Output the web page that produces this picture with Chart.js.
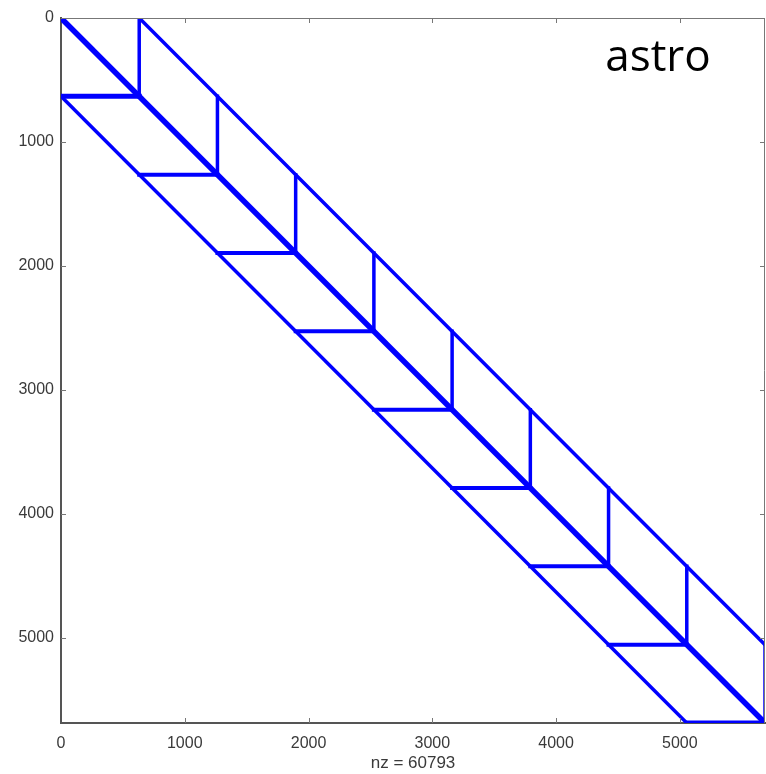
<!DOCTYPE html>
<html lang="en">
<head>
    <meta charset="UTF-8">
    <title>astro</title>
    <script src="https://cdn.jsdelivr.net/npm/chart.js"></script>
    <style>
        html, body { margin: 0; padding: 0; background: #fff; }
    </style>
</head>
<body>
<canvas id="spy" width="766" height="774"></canvas>
<script>
    // spy plot of the "astro" matrix: block boundaries
    const matrixName = 'astro';
    const nzLabel = 'nz = 60793';
    const n = 5688;
    const blockEdges = [0, 632, 1264, 1896, 2528, 3160, 3792, 4424, 5056, 5688];
    const tickValues = [0, 1000, 2000, 3000, 4000, 5000];
    const offDiag = 632;

    const blue = '#0000ff';
    let datasets = [];
    function seg(pts, w) {
        datasets.push({data: pts, borderColor: blue, borderWidth: w, showLine: true,
            pointRadius: 0, fill: false, borderCapStyle: 'square'});
    }
    // main diagonal and the two off-diagonals
    seg([{x: 0, y: 0}, {x: n, y: n}], 5.5);
    seg([{x: offDiag, y: 0}, {x: n, y: n - offDiag}], 3.5);
    seg([{x: 0, y: offDiag}, {x: n - offDiag, y: n}], 3.5);
    // vertical and horizontal block pieces
    for (let k = 1; k < blockEdges.length; k++) {
        let a = blockEdges[k - 1], b = blockEdges[k];
        seg([{x: b, y: a}, {x: b, y: b}], 3.5);
        seg([{x: a, y: b}, {x: b, y: b}], (k == 1 || k == blockEdges.length - 1) ? 5 : 4);
    }

    const frame = {
        id: 'frame',
        afterDraw(chart) {
            const ctx = chart.ctx, ca = chart.chartArea;
            const xs = chart.scales.x, ys = chart.scales.y;
            ctx.save();
            ctx.strokeStyle = '#777';
            ctx.lineWidth = 1;
            ctx.beginPath();
            ctx.moveTo(ca.left, ca.top + 0.5); ctx.lineTo(ca.right, ca.top + 0.5);
            ctx.moveTo(ca.right - 0.5, ca.top); ctx.lineTo(ca.right - 0.5, ca.bottom);
            tickValues.forEach(v => {
                if (v == 0) return;
                let px = Math.round(xs.getPixelForValue(v)) + 0.5;
                ctx.moveTo(px, ca.bottom); ctx.lineTo(px, ca.bottom - 5);
                ctx.moveTo(px, ca.top); ctx.lineTo(px, ca.top + 5);
                let py = Math.round(ys.getPixelForValue(v)) + 0.5;
                ctx.moveTo(ca.left, py); ctx.lineTo(ca.left + 5, py);
                ctx.moveTo(ca.right, py); ctx.lineTo(ca.right - 5, py);
            });
            ctx.stroke();
            ctx.fillStyle = '#000';
            ctx.font = '44px "Open Sans", sans-serif';
            ctx.textAlign = 'center';
            ctx.textBaseline = 'alphabetic';
            ctx.fillText(matrixName, 658, 71);
            ctx.restore();
        }
    };

    const tickFont = {family: '"Liberation Sans", Arial, sans-serif', size: 16};
    const titleFont = {family: '"Liberation Sans", Arial, sans-serif', size: 17};
    new Chart(document.getElementById('spy'), {
        type: 'scatter',
        data: {datasets: datasets},
        options: {
            responsive: false,
            animation: false,
            devicePixelRatio: 1,
            layout: {padding: {top: 18, right: 1, left: 0, bottom: 0}},
            plugins: {legend: {display: false}, tooltip: {enabled: false}},
            scales: {
                x: {
                    type: 'linear', min: 0, max: n,
                    afterBuildTicks: s => { s.ticks = tickValues.map(v => ({value: v})); },
                    afterFit: s => { s.height = 51; },
                    grid: {display: true, drawOnChartArea: false, drawTicks: false},
                    border: {display: true, color: '#555', width: 2},
                    ticks: {padding: 11, color: '#3a3a3a', font: tickFont, maxRotation: 0,
                        callback: v => String(v)},
                    title: {display: true, text: nzLabel, color: '#3a3a3a', font: titleFont, padding: {top: 5, bottom: 0}}
                },
                y: {
                    type: 'linear', min: 0, max: n, reverse: true,
                    afterBuildTicks: s => { s.ticks = tickValues.map(v => ({value: v})); },
                    afterFit: s => { s.width = 61; },
                    grid: {display: true, drawOnChartArea: false, drawTicks: false},
                    border: {display: true, color: '#555', width: 2},
                    ticks: {padding: 7, color: '#3a3a3a', font: tickFont, callback: v => String(v)}
                }
            }
        },
        plugins: [frame]
    });
</script>
</body>
</html>
